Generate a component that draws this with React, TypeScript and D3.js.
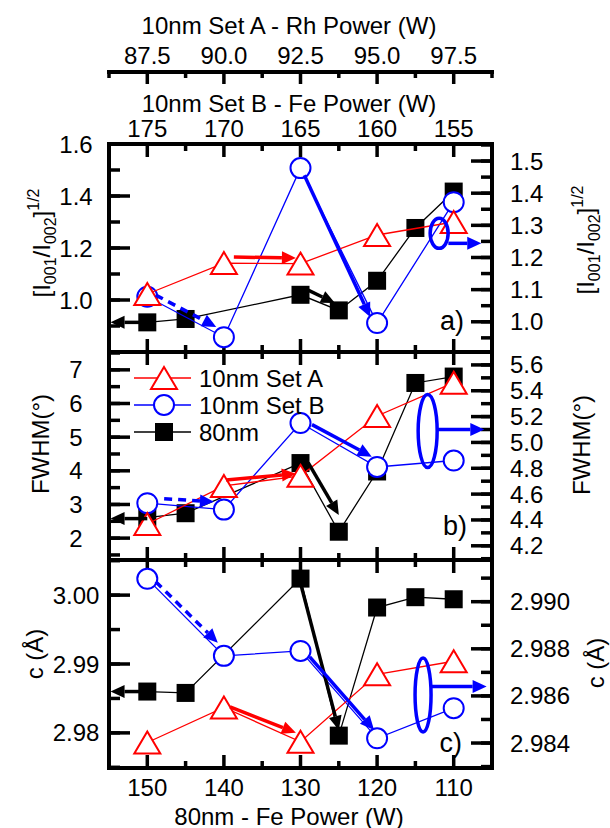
import * as d3 from "d3";

const FONT = "'Liberation Sans', Arial, sans-serif";
const WIDTH = 610;
const HEIGHT = 828;
const margin = { left: 109, right: 492 };
const panelBox = [
  { top: 144, bottom: 352 },
  { top: 352, bottom: 560 },
  { top: 560, bottom: 768 },
];

// x values: 80nm films (bottom axis) and 10nm films (top axes)
const fePower80 = [150, 145, 130, 125, 120, 115, 110];
const rhPowerA = [87.5, 90, 92.5, 95, 97.5];
const fePowerB = [175, 170, 165, 160, 155];

// a) [I001/I002]^1/2   (set B on right axis)
const ratioA = [1.023, 1.142, 1.14, 1.25, 1.3];
const ratioB = [1.078, 0.952, 1.478, 0.996, 1.372];
const ratio80 = [0.914, 0.927, 1.02, 0.96, 1.074, 1.277, 1.417];

// b) FWHM   (set B on right axis)
const fwhmA = [2.42, 3.55, 3.85, 5.63, 6.62];
const fwhmB = [4.53, 4.48, 5.15, 4.81, 4.86];
const fwhm80 = [2.61, 2.74, 4.23, 2.19, 3.98, 6.61, 6.8];

// c) lattice parameter c   (set B on right axis)
const cA = [2.9786, 2.9837, 2.9787, 2.9885, 2.9904];
const cB = [2.99097, 2.9877, 2.98791, 2.9842, 2.98548];
const c80 = [2.986, 2.9858, 3.0024, 2.9796, 2.9982, 2.9997, 2.9994];

// tick labels
const ticks80 = [150, 140, 130, 120, 110];
const ticksA = [87.5, 90.0, 92.5, 95.0, 97.5];
const ticksB = [175, 170, 165, 160, 155];
const leftTicksA = [1.0, 1.2, 1.4, 1.6];
const rightTicksA = [1.0, 1.1, 1.2, 1.3, 1.4, 1.5];
const leftTicksB = [2, 3, 4, 5, 6, 7];
const rightTicksB = [4.2, 4.4, 4.6, 4.8, 5.0, 5.2, 5.4, 5.6];
const leftTicksC = [2.98, 2.99, 3.0];
const rightTicksC = [2.984, 2.986, 2.988, 2.99];

const RED = "#ff0000";
const BLUE = "#0000ff";

// annotation arrows in data units [fePower80, value]
const arrowsA = [
  { from: [150, 0.914], to: [154.8, 0.914], side: "l", color: "#000" },
  { from: [148.9, 1.083], to: [141.0, 0.984], side: "r", color: BLUE, dash: true },
  { from: [138.7, 1.165], to: [130.6, 1.162], side: "l", color: RED },
  { from: [129.0, 1.038], to: [125.5, 0.988], side: "l", color: "#000" },
  { from: [129.5, 1.456], to: [120.9, 1.015], side: "r", color: BLUE },
  { from: [110.7, 1.244], to: [106.4, 1.244], side: "r", color: BLUE },
];
const arrowsB = [
  { from: [150, 2.58], to: [154.8, 2.58], side: "l", color: "#000" },
  { from: [147.8, 4.564], to: [141.3, 4.541], side: "r", color: BLUE, dash: true },
  { from: [139.7, 3.73], to: [130.6, 3.91], side: "l", color: RED },
  { from: [128.5, 5.138], to: [120.7, 4.89], side: "r", color: BLUE },
  { from: [129.0, 4.24], to: [125.0, 2.69], side: "l", color: "#000" },
  { from: [112.2, 5.1], to: [106.0, 5.1], side: "r", color: BLUE },
];
const arrowsC = [
  { from: [150, 2.986], to: [154.8, 2.986], side: "l", color: "#000" },
  { from: [148.9, 2.99085], to: [140.8, 2.98826], side: "r", color: BLUE, dash: true },
  { from: [139.2, 2.98377], to: [130.6, 2.98], side: "l", color: RED },
  { from: [130.1, 3.00217], to: [125.0, 2.98043], side: "l", color: "#000" },
  { from: [128.8, 2.98766], to: [120.4, 2.98455], side: "r", color: BLUE },
  { from: [113.0, 2.9864], to: [105.7, 2.9864], side: "r", color: BLUE },
];

const panels = [
  {
    left: [0.8, 1.6], right: [0.906, 1.553],
    leftTicks: leftTicksA, leftStep: 0.2, leftFmt: d3.format(".1f"),
    rightTicks: rightTicksA, rightStep: 0.1, rightFmt: d3.format(".1f"),
    a: ratioA, b: ratioB, n80: ratio80, arrows: arrowsA,
    ellipse: { at: [111.9, 1.275], rx: 9, ry: 15 },
    tag: "a)", tagX: 464, tagY: 330,
    title: "ratio", leftTitle: { x: 50, y: 243 }, rightTitle: { x: 594, y: 240 },
  },
  {
    left: [1.35, 7.53], right: [4.09, 5.7],
    leftTicks: leftTicksB, leftStep: 1, leftFmt: d3.format("d"),
    rightTicks: rightTicksB, rightStep: 0.2, rightFmt: d3.format(".1f"),
    a: fwhmA, b: fwhmB, n80: fwhm80, arrows: arrowsB,
    ellipse: { at: [113.4, 5.088], rx: 9.5, ry: 36.5 },
    tag: "b)", tagX: 467, tagY: 535,
    title: "FWHM(°)", leftTitle: { x: 49, y: 444 }, rightTitle: { x: 590, y: 445 },
  },
  {
    left: [2.9749, 3.0051], right: [2.98294, 2.99177],
    leftTicks: leftTicksC, leftStep: 0.01, leftFmt: d3.format(".2f"),
    rightTicks: rightTicksC, rightStep: 0.002, rightFmt: d3.format(".3f"),
    a: cA, b: cB, n80: c80, arrows: arrowsC,
    ellipse: { at: [114.0, 2.98604], rx: 8, ry: 37 },
    tag: "c)", tagX: 462, tagY: 752,
    title: "c (Å)", leftTitle: { x: 43, y: 654 }, rightTitle: { x: 604, y: 663 },
  },
];

const x80 = d3.scaleLinear().domain([155, 105]).range([margin.left, margin.right]);
const xA = d3.scaleLinear().domain([86.25, 98.75]).range([margin.left, margin.right]);
const xB = d3.scaleLinear().domain([177.5, 152.5]).range([margin.left, margin.right]);

const minorTicks = (ticks, step, dom) => {
  const lo = Math.min(...dom), hi = Math.max(...dom);
  const out = [];
  for (let v = ticks[0] - step / 2; v <= hi + 1e-9; v += step / 2) {
    if (v > lo + 1e-9 && v < hi - 1e-9) out.push(v);
  }
  return out;
};

const triPath = "M0,-11L13,11L-13,11Z";

function Arrow({ x1, y1, x2, y2, color, dash }) {
  const ang = Math.atan2(y2 - y1, x2 - x1);
  const L = 14, hw = 6.5;
  const bx = x2 - L * Math.cos(ang), by = y2 - L * Math.sin(ang);
  const px = -Math.sin(ang) * hw, py = Math.cos(ang) * hw;
  return (
    <g>
      <line x1={x1} y1={y1} x2={bx} y2={by} stroke={color} strokeWidth={3.5}
        strokeDasharray={dash ? "8,6" : undefined} />
      <path d={`M${x2},${y2}L${bx + px},${by + py}L${bx - px},${by - py}Z`} fill={color} />
    </g>
  );
}

function RatioTitle({ x, y }) {
  return (
    <text transform={`translate(${x},${y}) rotate(-90)`} textAnchor="middle" fontSize={24}>
      [I<tspan fontSize={16} dy={6}>001</tspan><tspan dy={-6}>/I</tspan>
      <tspan fontSize={16} dy={6}>002</tspan><tspan dy={-6}>]</tspan>
      <tspan fontSize={16} dy={-11}>1/2</tspan>
    </text>
  );
}

function Panel({ p, box }) {
  const yl = d3.scaleLinear().domain(p.left).range([box.bottom, box.top]);
  const yr = d3.scaleLinear().domain(p.right).range([box.bottom, box.top]);
  const line80 = d3.line().x((d) => x80(d[0])).y((d) => yl(d[1]));
  const lineA = d3.line().x((d) => xA(d[0])).y((d) => yl(d[1]));
  const lineB = d3.line().x((d) => xB(d[0])).y((d) => yr(d[1]));
  const d80 = fePower80.map((w, i) => [w, p.n80[i]]);
  const dA = rhPowerA.map((w, i) => [w, p.a[i]]);
  const dB = fePowerB.map((w, i) => [w, p.b[i]]);
  const xt = d3.range(150, 105, -5);
  const lMinor = minorTicks(p.leftTicks, p.leftStep, p.left);
  const rMinor = minorTicks(p.rightTicks, p.rightStep, p.right);
  const L = margin.left, R = margin.right;
  const ys = { l: yl, r: yr };
  return (
    <g>
      {/* x ticks top & bottom */}
      {xt.map((w) => {
        const len = w % 10 === 0 ? 13 : 7;
        return (
          <g key={w} stroke="#000" strokeWidth={3.5}>
            <line x1={x80(w)} x2={x80(w)} y1={box.top} y2={box.top + len} />
            <line x1={x80(w)} x2={x80(w)} y1={box.bottom} y2={box.bottom - len} />
          </g>
        );
      })}
      {/* y ticks */}
      {p.leftTicks.map((v) => (
        <line key={"lt" + v} x1={L} x2={L + 21} y1={yl(v)} y2={yl(v)} stroke="#000" strokeWidth={3.5} />
      ))}
      {lMinor.map((v) => (
        <line key={"lm" + v} x1={L} x2={L + 11} y1={yl(v)} y2={yl(v)} stroke="#000" strokeWidth={3.5} />
      ))}
      {p.rightTicks.map((v) => (
        <line key={"rt" + v} x1={R} x2={R - 21} y1={yr(v)} y2={yr(v)} stroke="#000" strokeWidth={3.5} />
      ))}
      {rMinor.map((v) => (
        <line key={"rm" + v} x1={R} x2={R - 11} y1={yr(v)} y2={yr(v)} stroke="#000" strokeWidth={3.5} />
      ))}
      {/* tick labels */}
      {p.leftTicks.map((v) => (
        <text key={"ll" + v} x={76} y={yl(v)} textAnchor="middle" dominantBaseline="central" fontSize={24}>
          {p.leftFmt(v)}
        </text>
      ))}
      {p.rightTicks.map((v) => (
        <text key={"rl" + v} x={510} y={yr(v)} dominantBaseline="central" fontSize={24}>
          {p.rightFmt(v)}
        </text>
      ))}
      {/* axis titles */}
      {p.title === "ratio" ? (
        <>
          <RatioTitle x={p.leftTitle.x} y={p.leftTitle.y} />
          <RatioTitle x={p.rightTitle.x} y={p.rightTitle.y} />
        </>
      ) : (
        <>
          <text transform={`translate(${p.leftTitle.x},${p.leftTitle.y}) rotate(-90)`} textAnchor="middle" fontSize={24}>{p.title}</text>
          <text transform={`translate(${p.rightTitle.x},${p.rightTitle.y}) rotate(-90)`} textAnchor="middle" fontSize={24}>{p.title}</text>
        </>
      )}
      {/* 80nm */}
      <path d={line80(d80)} fill="none" stroke="#000" strokeWidth={1.3} />
      {d80.map((d, i) => (
        <rect key={"s" + i} x={x80(d[0]) - 9} y={yl(d[1]) - 9} width={18} height={18} fill="#000" />
      ))}
      {/* set B */}
      <path d={lineB(dB)} fill="none" stroke={BLUE} strokeWidth={1.3} />
      {dB.map((d, i) => (
        <circle key={"c" + i} cx={xB(d[0])} cy={yr(d[1])} r={10} fill="#fff" stroke={BLUE} strokeWidth={2} />
      ))}
      {/* set A */}
      <path d={lineA(dA)} fill="none" stroke={RED} strokeWidth={1.3} />
      {dA.map((d, i) => (
        <path key={"t" + i} d={triPath} transform={`translate(${xA(d[0])},${yl(d[1])})`} fill="#fff" stroke={RED} strokeWidth={2} />
      ))}
      {/* annotations */}
      {p.arrows.map((a, i) => {
        const y = ys[a.side];
        return (
          <Arrow key={"a" + i} x1={x80(a.from[0])} y1={y(a.from[1])} x2={x80(a.to[0])} y2={y(a.to[1])}
            color={a.color} dash={a.dash} />
        );
      })}
      <ellipse cx={x80(p.ellipse.at[0])} cy={yr(p.ellipse.at[1])} rx={p.ellipse.rx} ry={p.ellipse.ry}
        fill="none" stroke={BLUE} strokeWidth={3.5} />
      <text x={p.tagX} y={p.tagY} textAnchor="end" fontSize={27}>{p.tag}</text>
      <rect x={L} y={box.top} width={R - L} height={box.bottom - box.top} fill="none" stroke="#000" strokeWidth={4} />
    </g>
  );
}

const legendItems = [
  { label: "10nm Set A", kind: "tri", color: RED },
  { label: "10nm Set B", kind: "circ", color: BLUE },
  { label: "80nm", kind: "sq", color: "#000" },
];

export default function App() {
  const topMinorA = d3.range(86.25, 98.76, 1.25);
  return (
    <svg width={WIDTH} height={HEIGHT} style={{ position: "absolute", left: 0, top: 0, background: "#fff" }}
      fontFamily={FONT}>
      {/* top axis: set A Rh power */}
      <text x={289} y={25} textAnchor="middle" dominantBaseline="central" fontSize={24}>10nm Set A - Rh Power (W)</text>
      {ticksA.map((v) => (
        <text key={"ta" + v} x={xA(v)} y={55} textAnchor="middle" dominantBaseline="central" fontSize={24}>
          {d3.format(".1f")(v)}
        </text>
      ))}
      <line x1={margin.left - 2} x2={margin.right + 2} y1={72} y2={72} stroke="#000" strokeWidth={4} />
      {topMinorA.map((v, i) => {
        const major = ticksA.some((t) => Math.abs(t - v) < 1e-6);
        return (
          <line key={"tm" + i} x1={xA(v)} x2={xA(v)} y1={72} y2={72 + (major ? 12 : 6)} stroke="#000" strokeWidth={3.5} />
        );
      })}
      {/* top axis: set B Fe power */}
      <text x={289} y={103} textAnchor="middle" dominantBaseline="central" fontSize={24}>10nm Set B - Fe Power (W)</text>
      {ticksB.map((v) => (
        <text key={"tb" + v} x={xB(v)} y={128} textAnchor="middle" dominantBaseline="central" fontSize={24}>{v}</text>
      ))}
      {panels.map((p, i) => (
        <Panel key={i} p={p} box={panelBox[i]} />
      ))}
      {/* legend */}
      {legendItems.map((it, i) => {
        const y = 378 + i * 27;
        return (
          <g key={it.label}>
            <line x1={134} x2={191} y1={y} y2={y} stroke={it.color} strokeWidth={1.3} />
            {it.kind === "tri" && (
              <path d={triPath} transform={`translate(164,${y})`} fill="#fff" stroke={it.color} strokeWidth={2} />
            )}
            {it.kind === "circ" && <circle cx={164} cy={y} r={10} fill="#fff" stroke={it.color} strokeWidth={2} />}
            {it.kind === "sq" && <rect x={155} y={y - 9} width={18} height={18} fill="#000" />}
            <text x={199} y={y} dominantBaseline="central" fontSize={24}>{it.label}</text>
          </g>
        );
      })}
      {/* bottom axis */}
      {ticks80.map((v) => (
        <text key={"b" + v} x={x80(v)} y={787} textAnchor="middle" dominantBaseline="central" fontSize={24}>{v}</text>
      ))}
      <text x={289} y={816} textAnchor="middle" dominantBaseline="central" fontSize={24}>80nm - Fe Power (W)</text>
    </svg>
  );
}
